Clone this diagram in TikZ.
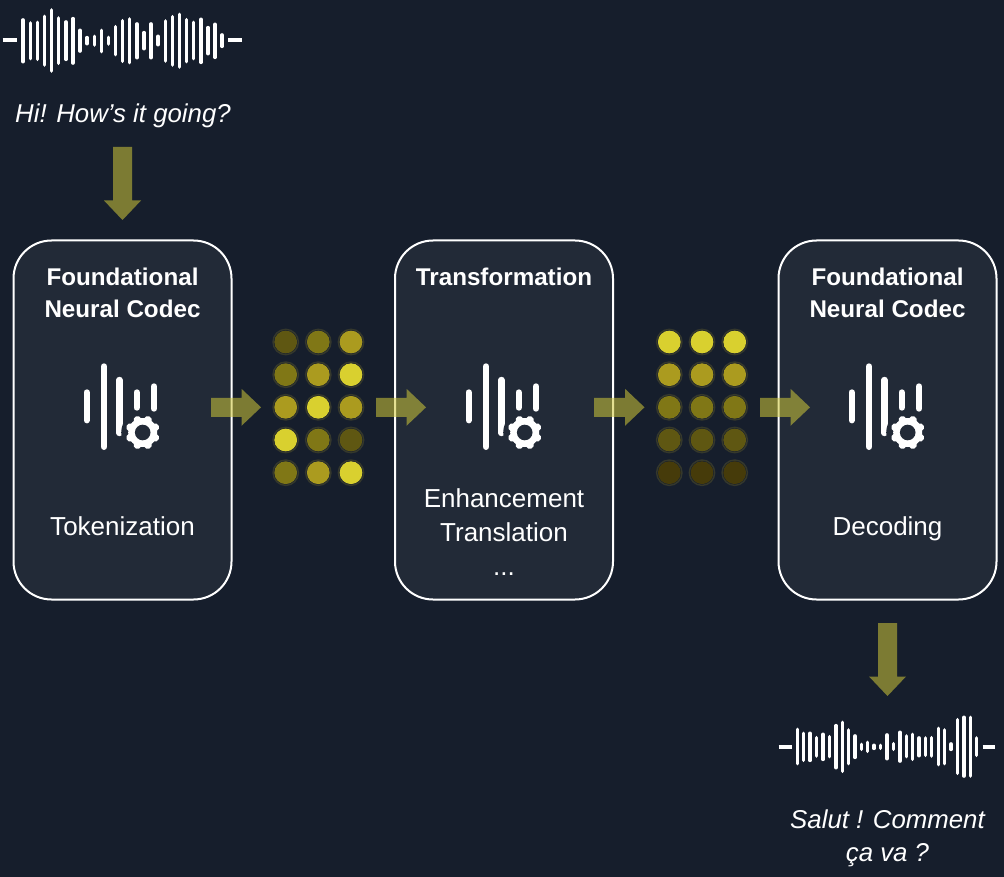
\documentclass[tikz,border=0pt]{standalone}
\usepackage{fontspec}
\setmainfont{Liberation Sans}
\usetikzlibrary{calc}
\definecolor{bg}{HTML}{161E2C}
\definecolor{boxc}{HTML}{222A37}
\definecolor{fat}{HTML}{D0C93A}
\definecolor{lA}{HTML}{D9D02F}
\definecolor{lB}{HTML}{AB9B1F}
\definecolor{lC}{HTML}{807716}
\definecolor{lD}{HTML}{5F5712}
\definecolor{lE}{HTML}{463B0A}
\definecolor{ringc}{HTML}{35382C}
\tikzset{
  x=1pt,y=-1pt,
  procbox/.style={draw=white,line width=2pt,fill=boxc,rounded corners=38pt,minimum width=218pt,minimum height=359pt,inner sep=0pt},
  title/.style={font=\fontsize{24.2}{24.2}\selectfont\bfseries,text=white,inner sep=0pt,anchor=base},
  body/.style={font=\fontsize{26}{26}\selectfont,text=white,inner sep=0pt,anchor=base},
  quote/.style={font=\fontsize{25.8}{25.8}\selectfont\itshape,text=white,inner sep=0pt,anchor=base},
  fatarrow/.style={fill=fat,fill opacity=.55,draw=none},
  wavebar/.style={white,line width=3.6pt,line cap=round},
  iconbar/.style={white,line width=6.4pt,line cap=round},
  dotc/.style={circle,inner sep=0pt,minimum size=25.4pt,draw=ringc,line width=1.4pt,fill=bg,outer sep=0pt,
    path picture={\fill[#1] (path picture bounding box.center) circle (11.4pt);}}
}
\newcommand{\wavebars}[3]{% x-origin, y-origin of zoom, list
  \foreach \zx/\za/\zb in {#3} {
    \draw[wavebar] ({#1+\zx/3},{#2+\za/3}) -- ({#1+\zx/3},{#2+\zb/3});
  }
}
\newcommand{\codecicon}[1]{%
  \begin{scope}[xshift=#1pt]
    \draw[iconbar] (86.7,392.5) -- (86.7,420.2);
    \draw[iconbar] (104,366.5) -- (104,446.8);
    \draw[iconbar] (119.4,380) -- (119.4,433);
    \draw[iconbar] (136.7,392.5) -- (136.7,407.5);
    \draw[iconbar] (154,386.5) -- (154,408.5);
    \fill[boxc] (142.7,432.5) circle (21.5);
    \foreach \ang in {22.5,67.5,...,337.5} {
      \draw[white,line width=8pt,line cap=round] (142.7,432.5) ++(\ang:11) -- ++(\ang:2.4);
    }
    \fill[white] (142.7,432.5) circle (14.5);
    \fill[boxc] (142.7,432.5) circle (7.8);
  \end{scope}
}
\newcommand{\fatconnector}[2]{%
  \path coordinate (tmpH) at ($(#2)!19.5pt!(#1)$);
  \fill[fatarrow] ($(#1)!9.5pt!90:(#2)$) -- ($(tmpH)!9.5pt!90:(#2)$) -- ($(tmpH)!18.5pt!90:(#2)$) -- (#2)
    -- ($(tmpH)!18.5pt!-90:(#2)$) -- ($(tmpH)!9.5pt!-90:(#2)$) -- ($(#1)!9.5pt!-90:(#2)$) -- cycle;
}
\begin{document}
\begin{tikzpicture}
\useasboundingbox (0,0) rectangle (1004,877);
\fill[bg] (0,0) rectangle (1004,877);
% boxes
\node[procbox] (box1) at (122.5,420) {};
\node[procbox] (box2) at (504,420) {};
\node[procbox] (box3) at (887.5,420) {};
% icons
\codecicon{0}
\codecicon{382}
\codecicon{765}
% box text
\node[title] (t1a) at (122.5,285.5) {Foundational};
\node[title] (t1b) at (122.5,317) {Neural Codec};
\node[title] (t2a) at (504,285.5) {Transformation};
\node[title] (t3a) at (887.5,285.5) {Foundational};
\node[title] (t3b) at (887.5,317) {Neural Codec};
\node[body] (b1) at (122.5,535) {Tokenization};
\node[body] (b2a) at (504,507) {Enhancement};
\node[body] (b2b) at (504,541) {Translation};
\node[body] (b2c) at (504,575) {...};
\node[body] (b3) at (887.5,535) {Decoding};
% waveforms
\draw[wavebar,line width=4pt,line cap=butt] (2.5,40.3) -- (16.5,40.3);
\draw[wavebar,line width=4pt,line cap=butt] (228.3,40.3) -- (242.3,40.3);
\wavebars{0}{0}{69/60/185,91/69/176,113/67/178,133/49/195,155/30/213,176/54/190,198/66/178,219/56/189,240/91/153,261/113/131,283/109/135,304/91/155,325/112/132,346/80/164,368/62/184,389/57/188,411/72/173,432/98/146,453/72/173,474/109/134,496/63/183,517/50/195,539/43/201,560/59/185,581/67/176,603/58/187,624/83/161,645/73/172,666/105/139}
\draw[wavebar,line width=4pt,line cap=butt] (778.7,746.7) -- (792,746.7);
\draw[wavebar,line width=4pt,line cap=butt] (982.7,746.7) -- (995,746.7);
\wavebars{770}{705}{82/73/176,101/85/166,120/85/166,140/98/153,159/88/163,178/95/155,198/62/188,217/52/199,236/75/176,255/93/157,274/118/133,293/112/139,312/121/130,332/121/130,351/90/161,370/116/133,390/82/168,409/93/155,428/88/163,447/99/152,466/99/151,485/98/153,505/70/179,524/75/176,543/117/133,563/44/205,582/37/213,601/37/213,620/99/151}
% quotes
\node[quote] (q1) at (123,123) {Hi! How’s it going?};
\node[quote] (q2a) at (887.5,828.5) {Salut ! Comment};
\node[quote] (q2b) at (887.5,861.5) {ça va ?};
% dot grids
\foreach \row/\ya/\ca/\cb/\cc in {1/342/lD/lC/lB,2/374.7/lC/lB/lA,3/407.3/lB/lA/lB,4/440/lA/lC/lD,5/472.7/lC/lB/lA} {
  \node[dotc=\ca] (g1r\row c1) at (285.7,\ya) {};
  \node[dotc=\cb] (g1r\row c2) at (318.3,\ya) {};
  \node[dotc=\cc] (g1r\row c3) at (351,\ya) {};
}
\foreach \row/\ya/\ca in {1/342/lA,2/374.7/lB,3/407.3/lC,4/440/lD,5/472.7/lE} {
  \node[dotc=\ca] (g2r\row c1) at (669.3,\ya) {};
  \node[dotc=\ca] (g2r\row c2) at (702,\ya) {};
  \node[dotc=\ca] (g2r\row c3) at (734.7,\ya) {};
}
% arrows
\coordinate (a1s) at (211,407.3); \coordinate (a1e) at (261,407.3);
\coordinate (a2s) at (376,407.3); \coordinate (a2e) at (426,407.3);
\coordinate (a3s) at (594,407.3); \coordinate (a3e) at (644.5,407.3);
\coordinate (a4s) at (760,407.3); \coordinate (a4e) at (810,407.3);
\coordinate (a5s) at (122.5,147); \coordinate (a5e) at (122.5,220);
\coordinate (a6s) at (887.5,623); \coordinate (a6e) at (887.5,696);
\fatconnector{a1s}{a1e}
\fatconnector{a2s}{a2e}
\fatconnector{a3s}{a3e}
\fatconnector{a4s}{a4e}
\fatconnector{a5s}{a5e}
\fatconnector{a6s}{a6e}
\end{tikzpicture}
\end{document}
